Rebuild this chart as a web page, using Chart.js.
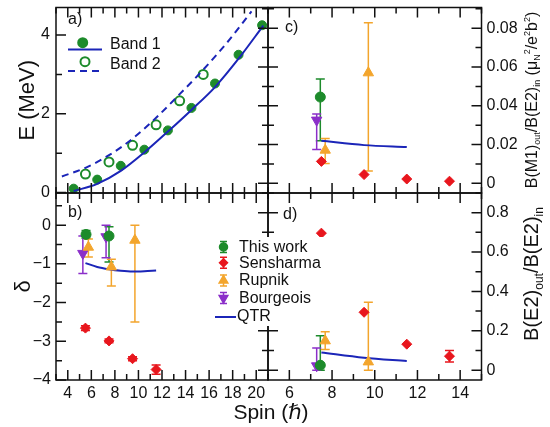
<!DOCTYPE html>
<html>
<head>
<meta charset="utf-8">
<script src="https://cdn.jsdelivr.net/npm/chart.js@4.4.1/dist/chart.umd.min.js"></script>
<style>
  body { margin: 0; background: #fff; }
  canvas { position: absolute; left: 0; top: 0; }
</style>
</head>
<body>
<canvas id="panelA" width="550" height="427"></canvas>
<canvas id="panelB" width="550" height="427"></canvas>
<canvas id="panelC" width="550" height="427"></canvas>
<canvas id="panelD" width="550" height="427"></canvas>
<script>
// tick labels
const spinTicksAB = [4, 6, 8, 10, 12, 14, 16, 18, 20];
const spinTicksCD = [6, 8, 10, 12, 14];
const energyTicks = [0, 2, 4];
const deltaTicks = [-4, -3, -2, -1, 0];
const m1Ticks = [0, 0.02, 0.04, 0.06, 0.08];
const e2Ticks = [0, 0.2, 0.4, 0.6, 0.8];

// a) level energies
const bandNames = ['Band 1', 'Band 2'];
const spinBand1 = [4.5, 6.5, 8.5, 10.5, 12.5, 14.5, 16.5, 18.5, 20.5];
const energyBand1 = [0.10, 0.33, 0.68, 1.09, 1.58, 2.15, 2.77, 3.50, 4.25];
const spinBand2 = [5.5, 7.5, 9.5, 11.5, 13.5, 15.5];
const energyBand2 = [0.47, 0.78, 1.20, 1.72, 2.33, 3.00];
const spinTheo1 = [4.5, 6.5, 8.5, 10.5, 12.5, 14.5, 16.5, 18.5, 20.6];
const energyTheo1 = [0.04, 0.22, 0.55, 1.02, 1.55, 2.10, 2.68, 3.40, 4.24];
const spinTheo2 = [3.5, 5.5, 7.5, 9.5, 11.5, 13.5, 15.5, 17.5, 19.6];
const energyTheo2 = [0.41, 0.63, 0.95, 1.37, 1.90, 2.50, 3.12, 3.80, 4.60];

const seriesNames = ['This work', 'Sensharma', 'Rupnik', 'Bourgeois', 'QTR'];

// b) mixing ratio delta
const thisSpinB = [5.55, 7.5];
const thisDelta = [-0.24, -0.28];
const thisDeltaLo = [0.10, 0.67];
const thisDeltaHi = [0.10, 0.24];
const sensSpinB = [5.5, 7.5, 9.5, 11.5];
const sensDelta = [-2.66, -2.99, -3.45, -3.73];
const sensDeltaErr = [0.06, 0.05, 0.05, 0.12];
const rupSpinB = [5.75, 7.7, 9.7];
const rupDelta = [-0.57, -1.08, -0.39];
const rupDeltaLo = [0.25, 0.49, 2.11];
const rupDeltaHi = [0.21, 0.20, 0.39];
const bouSpinB = [5.28, 7.25];
const bouDelta = [-0.73, -0.30];
const bouDeltaLo = [0.52, 0.54];
const bouDeltaHi = [0.45, 0.30];
const qtrSpinB = [5.5, 6.5, 7.5, 8.5, 9.5, 10.5, 11.5];
const qtrDelta = [-0.98, -1.08, -1.14, -1.18, -1.20, -1.19, -1.17];

// c) B(M1)out/B(E2)in
const thisSpinC = [7.45];
const thisM1 = [0.0445];
const thisM1Lo = [0.0225];
const thisM1Hi = [0.0093];
const sensSpinC = [7.5, 9.5, 11.5, 13.5];
const sensM1 = [0.0113, 0.0045, 0.0022, 0.0011];
const sensM1Err = [0, 0, 0, 0];
const rupSpinC = [7.68, 9.7];
const rupM1 = [0.0171, 0.057];
const rupM1Lo = [0.0069, 0.0507];
const rupM1Hi = [0.0060, 0.0258];
const bouSpinC = [7.28];
const bouM1 = [0.0326];
const bouM1Lo = [0.0152];
const bouM1Hi = [0.0031];
const qtrSpinC = [7.5, 9.5, 11.5];
const qtrM1 = [0.0219, 0.0197, 0.0187];

// d) B(E2)out/B(E2)in
const thisSpinD = [7.45];
const thisE2 = [0.025];
const thisE2Lo = [0.025];
const thisE2Hi = [0.15];
const sensSpinD = [7.5, 9.5, 11.5, 13.5];
const sensE2 = [0.696, 0.294, 0.132, 0.071];
const sensE2Err = [0, 0, 0, 0.029];
const rupSpinD = [7.68, 9.7];
const rupE2 = [0.149, 0.042];
const rupE2Lo = [0.044, 0.042];
const rupE2Hi = [0.046, 0.303];
const bouSpinD = [7.28];
const bouE2 = [0.022];
const bouE2Lo = [0.022];
const bouE2Hi = [0.091];
const qtrSpinD = [7.5, 9.5, 11.5];
const qtrE2 = [0.090, 0.063, 0.046];

const FONT = "'Liberation Sans', Arial, 'DejaVu Sans', sans-serif";
Chart.defaults.font.family = FONT;
Chart.defaults.font.size = 16;
Chart.defaults.color = '#111';

const GREEN = '#1d8b2b', RED = '#e8161d', ORANGE = '#f3a52c', PURPLE = '#8b2fc9', BLUE = '#1b25b8';

function pts(xs, ys) {
  return xs.map((x, i) => ({ x: x, y: ys[i] }));
}

function fixWidth(w) {
  return function (s) { s.width = w; s.paddingTop = 0; s.paddingBottom = 0; };
}
function fixHeight(h) {
  return function (s) { s.height = h; s.paddingLeft = 0; s.paddingRight = 0; };
}
function useTicks(vals) {
  return function (s) { s.ticks = vals.map(v => ({ value: v })); };
}

function axisX(min, max, show, vals) {
  const ax = {
    type: 'linear', min: min, max: max, display: show, position: 'bottom',
    grid: { display: false, drawTicks: false, tickLength: 0 }, border: { display: false },
    ticks: { padding: 4, autoSkip: false, maxRotation: 0 },
    afterBuildTicks: useTicks(vals)
  };
  if (show) ax.afterFit = fixHeight(47);
  return ax;
}

function axisY(min, max, vals, pos, width, fmt, pad, title, titlePad) {
  return {
    type: 'linear', min: min, max: max, position: pos,
    grid: { display: false, drawTicks: false, tickLength: 0 }, border: { display: false },
    ticks: { padding: pad, callback: fmt },
    afterBuildTicks: useTicks(vals),
    title: title ? { display: true, text: title, font: { size: 22 }, padding: { top: titlePad, bottom: 0 } } : { display: false },
    afterFit: fixWidth(width)
  };
}

function common(pad, scales) {
  return {
    responsive: false, animation: false, events: [],
    layout: { padding: pad, autoPadding: false },
    plugins: { legend: { display: false }, tooltip: { enabled: false } },
    scales: scales
  };
}

function drawTickMarks(ctx, scale, t, a) {
  const k0 = Math.ceil(scale.min / t.step - 1e-6), k1 = Math.floor(scale.max / t.step + 1e-6);
  ctx.beginPath();
  for (let k = k0; k <= k1; k++) {
    const v = k * t.step;
    const r = v / t.major;
    const len = Math.abs(r - Math.round(r)) < 1e-6 ? 10 : 6;
    const out = t.cross ? len : 0;
    const p = scale.getPixelForValue(v);
    if (t.side === 'left') { ctx.moveTo(a.left - out, p); ctx.lineTo(a.left + len, p); }
    if (t.side === 'right') { ctx.moveTo(a.right + out, p); ctx.lineTo(a.right - len, p); }
    if (t.side === 'top') { ctx.moveTo(p, a.top - out); ctx.lineTo(p, a.top + len); }
    if (t.side === 'bottom') { ctx.moveTo(p, a.bottom + out); ctx.lineTo(p, a.bottom - len); }
  }
  ctx.stroke();
}

function marker(ctx, style, x, y, r, color, rot, fill) {
  ctx.fillStyle = fill || color;
  ctx.strokeStyle = color;
  Chart.helpers.drawPoint(ctx, { pointStyle: style, radius: r, rotation: rot || 0, borderWidth: fill ? 2 : 1 }, x, y);
}

function drawRich(ctx, segs, cx, cy, size, subScale) {
  const small = Math.round(size * subScale);
  const fontOf = s => (s.sub || s.sup ? small : size) + 'px ' + FONT;
  const widths = segs.map(s => { ctx.font = fontOf(s); return ctx.measureText(s.t).width; });
  const total = widths.reduce((p, w) => p + w, 0);
  ctx.save();
  ctx.translate(cx, cy);
  ctx.rotate(-Math.PI / 2);
  ctx.textAlign = 'left';
  ctx.textBaseline = 'alphabetic';
  let x = -total / 2;
  const base = size * 0.36;
  segs.forEach((s, i) => {
    ctx.font = fontOf(s);
    const dy = s.sub ? size * 0.22 : s.sup ? -size * 0.42 : 0;
    ctx.fillText(s.t, x, base + dy);
    x += widths[i];
  });
  ctx.restore();
}

function makeDeco(cfg) {
  return {
    id: 'deco' + cfg.name,
    beforeDatasetsDraw(chart) {
      const ctx = chart.ctx, xs = chart.scales.x, ys = chart.scales.y;
      ctx.save();
      ctx.lineWidth = 1.5;
      chart.data.datasets.forEach(ds => {
        if (!ds.errHi) return;
        ctx.strokeStyle = ds.borderColor;
        ds.data.forEach((p, j) => {
          const hi = ds.errHi[j], lo = ds.errLo[j];
          if (!hi && !lo) return;
          const x = xs.getPixelForValue(p.x);
          const y1 = ys.getPixelForValue(p.y + hi);
          const y2 = ys.getPixelForValue(p.y - lo);
          ctx.beginPath();
          ctx.moveTo(x, y1); ctx.lineTo(x, y2);
          ctx.moveTo(x - 4.5, y1); ctx.lineTo(x + 4.5, y1);
          ctx.moveTo(x - 4.5, y2); ctx.lineTo(x + 4.5, y2);
          ctx.stroke();
        });
      });
      ctx.restore();
    },
    afterDraw(chart) {
      const ctx = chart.ctx, a = chart.chartArea;
      ctx.save();
      ctx.strokeStyle = '#111';
      ctx.lineWidth = 1.5;
      ctx.strokeRect(a.left, a.top, a.right - a.left, a.bottom - a.top);
      cfg.ticks.forEach(t => drawTickMarks(ctx, chart.scales[t.axis], t, a));
      ctx.fillStyle = '#111';
      ctx.font = '16px ' + FONT;
      ctx.textBaseline = 'middle';
      ctx.fillText(cfg.label[0], cfg.label[1], cfg.label[2]);
      if (cfg.extra) cfg.extra(ctx, chart);
      ctx.restore();
    }
  };
}

function legendA(ctx) {
  ctx.lineWidth = 2;
  ctx.strokeStyle = BLUE;
  ctx.beginPath(); ctx.moveTo(68, 49.5); ctx.lineTo(102, 49.5); ctx.stroke();
  ctx.setLineDash([7, 5]);
  ctx.beginPath(); ctx.moveTo(68, 71); ctx.lineTo(103, 71); ctx.stroke();
  ctx.setLineDash([]);
  marker(ctx, 'circle', 82.7, 42.7, 4.5, GREEN);
  marker(ctx, 'circle', 85, 61.7, 4.5, GREEN, 0, '#fff');
  ctx.fillStyle = '#111';
  ctx.font = '16px ' + FONT;
  ctx.textBaseline = 'middle';
  ctx.fillText(bandNames[0], 110, 45);
  ctx.fillText(bandNames[1], 110, 65);
}

function legendBD(ctx) {
  ctx.fillStyle = '#fff';
  ctx.fillRect(213, 237, 110, 89);
  const rows = [
    [GREEN, 'circle', 0, 5, 247],
    [RED, 'rectRot', 0, 5, 262.7],
    [ORANGE, 'triangle', 0, 6, 280.5],
    [PURPLE, 'triangle', 180, 6, 298]
  ];
  rows.forEach((r, i) => {
    ctx.strokeStyle = r[0];
    ctx.lineWidth = 1.5;
    ctx.beginPath();
    ctx.moveTo(223.5, r[4] - 5.5); ctx.lineTo(223.5, r[4] + 5.5);
    ctx.moveTo(220, r[4] - 5.5); ctx.lineTo(227, r[4] - 5.5);
    ctx.moveTo(220, r[4] + 5.5); ctx.lineTo(227, r[4] + 5.5);
    ctx.stroke();
    marker(ctx, r[1], 223.5, r[4], r[3] - 1, r[0], r[2]);
    ctx.fillStyle = '#111';
    ctx.font = '16px ' + FONT;
    ctx.textBaseline = 'middle';
    ctx.fillText(seriesNames[i], 239, r[4] + 0.5);
  });
  ctx.strokeStyle = BLUE;
  ctx.lineWidth = 2;
  ctx.beginPath(); ctx.moveTo(215, 317); ctx.lineTo(236, 317); ctx.stroke();
  ctx.fillStyle = '#111';
  ctx.fillText(seriesNames[4], 237, 316.5);
}

function spinTitle(ctx) {
  ctx.textBaseline = 'middle';
  ctx.textAlign = 'left';
  const p1 = 'Spin (', p3 = ')';
  ctx.font = '21px ' + FONT;
  const w1 = ctx.measureText(p1).width, w3 = ctx.measureText(p3).width;
  ctx.font = 'italic 21px ' + FONT;
  const w2 = ctx.measureText('\u210F').width;
  const x = 271 - (w1 + w2 + w3) / 2;
  ctx.fillStyle = '#111';
  ctx.font = '21px ' + FONT;
  ctx.fillText(p1, x, 413);
  ctx.font = 'italic 21px ' + FONT;
  ctx.fillText('\u210F', x + w1, 413);
  ctx.font = '21px ' + FONT;
  ctx.fillText(p3, x + w1 + w2, 413);
}

function errSet(label, xs, ys, lo, hi, color, style, r, rot) {
  return {
    label: label, data: pts(xs, ys), errLo: lo, errHi: hi,
    pointStyle: style, pointRadius: r, pointRotation: rot || 0,
    backgroundColor: color, borderColor: color, borderWidth: 1
  };
}
function lineSet(label, xs, ys, dash) {
  return {
    label: label, data: pts(xs, ys), showLine: true, borderColor: BLUE, borderWidth: 2,
    borderDash: dash || [], pointRadius: 0, cubicInterpolationMode: 'monotone'
  };
}

const fmtA = v => String(v);
const fmtB = v => v < 0 ? '\u2212' + Math.abs(v) : String(v);
const fmtC = v => Math.abs(v) < 1e-9 ? '0' : v.toFixed(2);
const fmtD = v => Math.abs(v) < 1e-9 ? '0' : v.toFixed(1);

new Chart(document.getElementById('panelA'), {
  type: 'scatter',
  data: { datasets: [
    lineSet(bandNames[0], spinTheo1, energyTheo1),
    lineSet(bandNames[1], spinTheo2, energyTheo2, [7, 5]),
    { label: bandNames[0], data: pts(spinBand1, energyBand1), pointRadius: 4.5, backgroundColor: GREEN, borderColor: GREEN, borderWidth: 1 },
    { label: bandNames[1], data: pts(spinBand2, energyBand2), pointRadius: 4.5, backgroundColor: '#fff', borderColor: GREEN, borderWidth: 2 }
  ]},
  options: common({ left: 0, top: 7.5, right: 282, bottom: 234 }, {
    x: axisX(3, 21, false, spinTicksAB),
    y: axisY(-0.01, 4.7, energyTicks, 'left', 56, fmtA, 6, 'E (MeV)', 15)
  }),
  plugins: [makeDeco({
    name: 'A',
    ticks: [
      { axis: 'x', side: 'top', step: 1, major: 2 },
      { axis: 'x', side: 'bottom', step: 1, major: 2, cross: true },
      { axis: 'y', side: 'left', step: 1, major: 2 }
    ],
    label: ['a)', 68, 20],
    extra: legendA
  })]
});

new Chart(document.getElementById('panelB'), {
  type: 'scatter',
  data: { datasets: [
    errSet(seriesNames[0], thisSpinB, thisDelta, thisDeltaLo, thisDeltaHi, GREEN, 'circle', 5),
    errSet(seriesNames[1], sensSpinB, sensDelta, sensDeltaErr, sensDeltaErr, RED, 'rectRot', 5),
    errSet(seriesNames[2], rupSpinB, rupDelta, rupDeltaLo, rupDeltaHi, ORANGE, 'triangle', 6),
    errSet(seriesNames[3], bouSpinB, bouDelta, bouDeltaLo, bouDeltaHi, PURPLE, 'triangle', 6, 180),
    lineSet(seriesNames[4], qtrSpinB, qtrDelta)
  ]},
  options: common({ left: 0, top: 193, right: 282, bottom: 0 }, {
    x: axisX(3, 21, true, spinTicksAB),
    y: axisY(-4, 0.83, deltaTicks, 'left', 56, fmtB, 5, '\u03B4', 11)
  }),
  plugins: [makeDeco({
    name: 'B',
    ticks: [
      { axis: 'x', side: 'bottom', step: 1, major: 2 },
      { axis: 'y', side: 'left', step: 0.5, major: 1 }
    ],
    label: ['b)', 68, 213]
  })]
});

new Chart(document.getElementById('panelC'), {
  type: 'scatter',
  data: { datasets: [
    errSet(seriesNames[0], thisSpinC, thisM1, thisM1Lo, thisM1Hi, GREEN, 'circle', 5),
    errSet(seriesNames[1], sensSpinC, sensM1, sensM1Err, sensM1Err, RED, 'rectRot', 5),
    errSet(seriesNames[2], rupSpinC, rupM1, rupM1Lo, rupM1Hi, ORANGE, 'triangle', 6),
    errSet(seriesNames[3], bouSpinC, bouM1, bouM1Lo, bouM1Hi, PURPLE, 'triangle', 6, 180),
    lineSet(seriesNames[4], qtrSpinC, qtrM1)
  ]},
  options: common({ left: 268, top: 7.5, right: 0, bottom: 234 }, {
    x: axisX(5, 15, false, spinTicksCD),
    y: axisY(-0.005, 0.0907, m1Ticks, 'right', 68.5, fmtC, 5)
  }),
  plugins: [makeDeco({
    name: 'C',
    ticks: [
      { axis: 'x', side: 'top', step: 1, major: 2 },
      { axis: 'x', side: 'bottom', step: 1, major: 2, cross: true },
      { axis: 'y', side: 'left', step: 0.01, major: 0.02, cross: true },
      { axis: 'y', side: 'right', step: 0.01, major: 0.02 }
    ],
    label: ['c)', 285, 28],
    extra: ctx => drawRich(ctx, [
      { t: 'B(M1)' }, { t: 'out', sub: true }, { t: '/B(E2)' }, { t: 'in', sub: true },
      { t: ' (\u03BC' }, { t: 'N', sub: true }, { t: '2', sup: true }, { t: '/e' }, { t: '2', sup: true },
      { t: 'b' }, { t: '2', sup: true }, { t: ')' }
    ], 531, 100, 16, 0.55)
  })]
});

new Chart(document.getElementById('panelD'), {
  type: 'scatter',
  data: { datasets: [
    errSet(seriesNames[0], thisSpinD, thisE2, thisE2Lo, thisE2Hi, GREEN, 'circle', 5),
    errSet(seriesNames[1], sensSpinD, sensE2, sensE2Err, sensE2Err, RED, 'rectRot', 5),
    errSet(seriesNames[2], rupSpinD, rupE2, rupE2Lo, rupE2Hi, ORANGE, 'triangle', 6),
    errSet(seriesNames[3], bouSpinD, bouE2, bouE2Lo, bouE2Hi, PURPLE, 'triangle', 6, 180),
    lineSet(seriesNames[4], qtrSpinD, qtrE2)
  ]},
  options: common({ left: 268, top: 193, right: 0, bottom: 0 }, {
    x: axisX(5, 15, true, spinTicksCD),
    y: axisY(-0.05, 0.9, e2Ticks, 'right', 68.5, fmtD, 5)
  }),
  plugins: [makeDeco({
    name: 'D',
    ticks: [
      { axis: 'x', side: 'bottom', step: 1, major: 2 },
      { axis: 'y', side: 'left', step: 0.1, major: 0.2, cross: true },
      { axis: 'y', side: 'right', step: 0.1, major: 0.2 }
    ],
    label: ['d)', 283, 215],
    extra: (ctx) => {
      drawRich(ctx, [
        { t: 'B(E2)' }, { t: 'out', sub: true }, { t: '/B(E2)' }, { t: 'in', sub: true }
      ], 531, 274, 20, 0.6);
      legendBD(ctx);
      spinTitle(ctx);
    }
  })]
});
</script>
</body>
</html>
